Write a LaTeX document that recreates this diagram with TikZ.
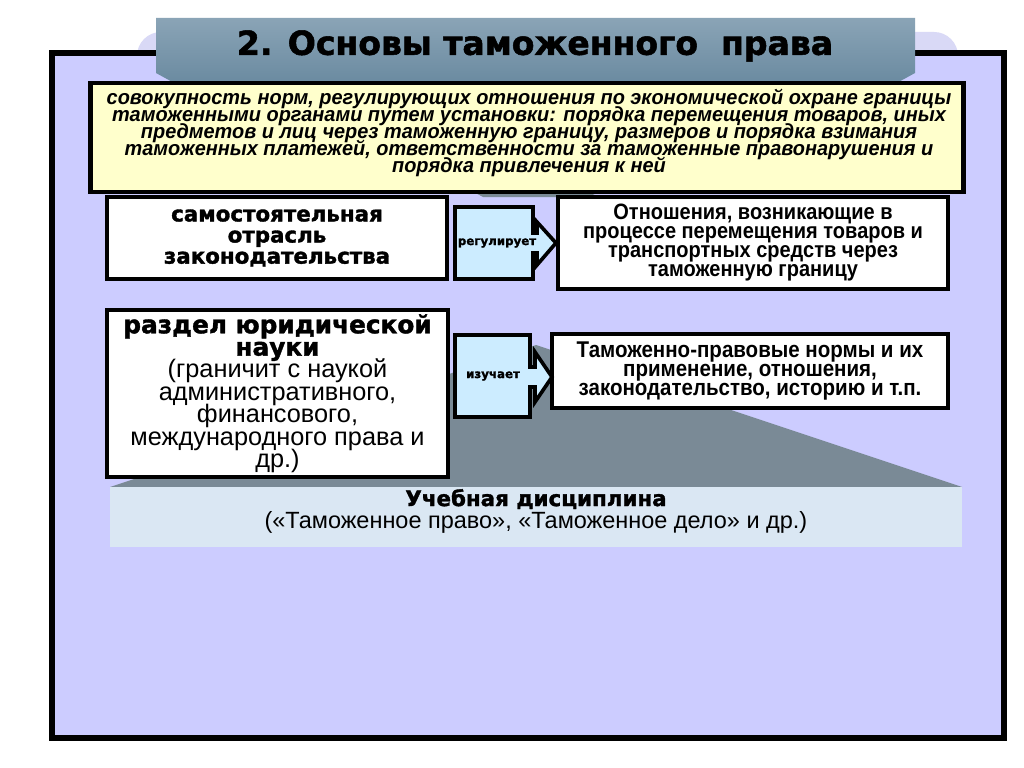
\documentclass[tikz,border=0pt]{standalone}
\usepackage{fontspec}
\setmainfont{Liberation Sans}
\newfontfamily\heavyfont{DejaVu Sans}[BoldFeatures={FakeBold=1.6}]
\newfontfamily\narrowfont{Liberation Sans}[FakeStretch=0.9]
\newfontfamily\yelfont{Liberation Sans}[FakeStretch=0.97]
\usetikzlibrary{shadows}
\definecolor{frameFill}{HTML}{CCCCFF}
\definecolor{lav}{HTML}{D9D9F6}
\definecolor{steel}{RGB}{122,138,150}
\definecolor{yel}{HTML}{FFFFCC}
\definecolor{arrowblue}{HTML}{CCECFF}
\definecolor{botbox}{HTML}{DAE7F3}
\definecolor{tA}{HTML}{8AA4B6}
\definecolor{tB}{HTML}{CFEAF7}
\definecolor{tC}{HTML}{6A8AA0}
\begin{document}
\begin{tikzpicture}[x=0.025cm,y=-0.025cm,
  box/.style={draw=black, line width=2.85pt, fill=white, inner sep=0pt, align=center,
    execute at begin node={\lineskiplimit=-50pt},
    drop shadow={shadow xshift=1.5pt, shadow yshift=-1.5pt, fill=black!60, opacity=0.6}},
  arrowshape/.style={draw=black, line width=2.6pt, fill=arrowblue, line join=miter},
  txt/.style={inner sep=0pt, align=center, execute at begin node={\lineskiplimit=-50pt}}]
\useasboundingbox (0,0) rectangle (1024,768);
\fill[white] (0,0) rectangle (1024,768);
% lavender rounded backdrop
\fill[lav, rounded corners=0.6cm] (137,32) rectangle (958,130);
% frame
\draw[line width=4.3pt, fill=frameFill] (52,53) rectangle (1004,738);
% gray funnels
\fill[steel] (396,150) -- (676,150) -- (589,197) -- (483,197) -- cycle;
\fill[steel] (536,345) -- (962,487) -- (110,487) -- cycle;
% title
\shade[top color=tA, middle color=tB, bottom color=tC] (156,18) -- (915,18) -- (915,73) -- (895,84) -- (176,84) -- (156,73) -- cycle;
\node[txt, font=\heavyfont\bfseries\fontsize{23.5pt}{26pt}\selectfont] (title) at (535,46) {2. Основы таможенного~ права};
% definition box
\node[box, line width=3.5pt, fill=yel, minimum width=21.8cm, minimum height=2.725cm] (def) at (527,137.5) {};
\node[txt, font=\yelfont\bfseries\itshape\fontsize{14.6pt}{12.2pt}\selectfont] (deftext) at (529,133)
 {совокупность норм, регулирующих отношения по экономической охране границы\\
  таможенными органами путем установки: порядка перемещения товаров, иных\\
  предметов и лиц через таможенную границу, размеров и порядка взимания\\
  таможенных платежей, ответственности за таможенные правонарушения и\\
  порядка привлечения к ней};
% row 1
\node[box, minimum width=8.5cm, minimum height=2.05cm, font=\heavyfont\bfseries\fontsize{15.2pt}{15pt}\selectfont] (l1) at (277,238)
 {самостоятельная\\ отрасль\\ законодательства};
\node[box, minimum width=9.75cm, minimum height=2.3cm, font=\narrowfont\bfseries\fontsize{15.8pt}{13.5pt}\selectfont] (r1) at (753,243)
 {Отношения, возникающие в\\ процессе перемещения товаров и\\ транспортных средств через\\ таможенную границу};
\draw[arrowshape] (455,207) -- (533,207) -- (533,233) -- (537,233) -- (537,222) -- (r1.west) -- (537,265) -- (537,253) -- (533,253) -- (533,279) -- (455,279) -- cycle;
\node[txt, font=\heavyfont\bfseries\fontsize{8.4pt}{9pt}\selectfont] (reg) at (497,243) {регулирует};
% row 2
\node[box, minimum width=8.525cm, minimum height=4.175cm, font=\fontsize{18pt}{15.9pt}\selectfont] (l2) at (277.5,393.5)
 {{\heavyfont\bfseries\fontsize{17.6pt}{15.9pt}\selectfont раздел юридической}\\
  {\heavyfont\bfseries\fontsize{17.6pt}{15.9pt}\selectfont науки}\\
  (граничит с наукой\\
  административного,\\
  финансового,\\
  международного права и\\
  др.)};
\node[box, minimum width=9.9cm, minimum height=1.85cm, font=\narrowfont\bfseries\fontsize{16.2pt}{13.2pt}\selectfont] (r2) at (750,371)
 {Таможенно-правовые нормы и их\\ применение, отношения,\\ законодательство, историю и т.п.};
\draw[arrowshape] (455,335) -- (530,335) -- (530,367) -- (535,367) -- (535,352) -- (552,377) -- (535,402) -- (535,387) -- (530,387) -- (530,417) -- (455,417) -- cycle;
\node[txt, font=\heavyfont\bfseries\fontsize{8.4pt}{9pt}\selectfont] (izu) at (493,376) {изучает};
% discipline box
\node[fill=botbox, minimum width=21.3cm, minimum height=1.5cm, inner sep=0pt] (disc) at (536,517) {};
\node[txt, font=\fontsize{16.7pt}{15.6pt}\selectfont] (disctext) at (536,511)
 {{\heavyfont\bfseries\fontsize{15.2pt}{15.6pt}\selectfont Учебная дисциплина}\\
  («Таможенное право», «Таможенное дело» и др.)};
\end{tikzpicture}
\end{document}
